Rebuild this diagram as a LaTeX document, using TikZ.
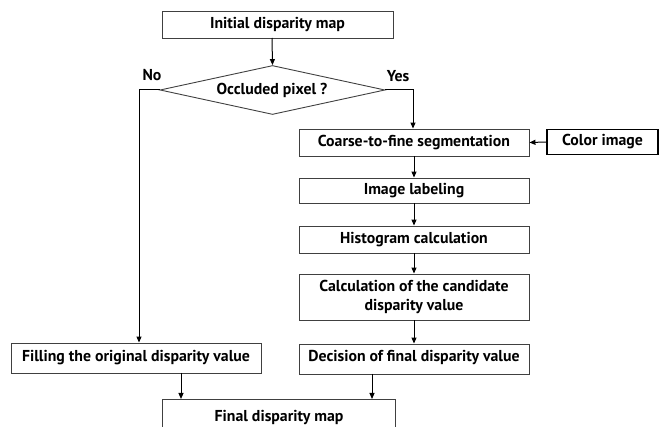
\documentclass[tikz,border=0pt]{standalone}
\usepackage{fontspec}
\setmainfont{PT Sans}
\usetikzlibrary{shapes.geometric,arrows.meta}
\begin{document}
\begin{tikzpicture}[x=1pt,y=-1pt,
  every node/.style={font=\bfseries\fontsize{15.8}{19}\selectfont, text=black},
  box/.style={draw=black!75, line width=0.9pt, fill=white, inner sep=0pt},
  arr/.style={-{Triangle[length=6pt,width=5pt]}, line width=1pt, black},
  ln/.style={line width=1pt, black}]
\useasboundingbox (0,0) rectangle (659,427);
\clip (0,0) rectangle (659,427);
\node[box, minimum width=231pt, minimum height=27pt] (init) at (277.5,24.5) {Initial disparity map};
\node[draw=black!75, line width=0.9pt, diamond, aspect=4.6, minimum width=225pt, minimum height=49pt, inner sep=0pt] (occ) at (272.5,90) {};
\node at (272,90) {Occluded pixel ?};
\node at (152,75) {No};
\node at (398,76) {Yes};
\node[box, minimum width=230pt, minimum height=27pt] (seg) at (414,142.5) {Coarse-to-fine segmentation};
\node[draw=black, line width=1.2pt, inner sep=0pt, minimum width=111pt, minimum height=25pt] (col) at (602.5,142) {Color image};
\node[box, minimum width=230pt, minimum height=25pt] (lab) at (414,190.5) {Image labeling};
\node[box, minimum width=230pt, minimum height=27pt] (his) at (414,239.5) {Histogram calculation};
\node[box, minimum width=230pt, minimum height=46pt, align=center] (cal) at (414,297) {Calculation of the candidate\\disparity value};
\node[box, minimum width=230pt, minimum height=30pt] (dec) at (414,359) {};
\node at (414,358) {Decision of final disparity value};
\node[box, minimum width=250pt, minimum height=30pt] (fil) at (136,358) {Filling the original disparity value};
\node[box, minimum width=233pt, minimum height=40pt, anchor=north west] (fin) at (162,399) {};
\node at (279,418) {Final disparity map};
\coordinate (nl) at (139,90);
\coordinate (yr) at (413,90);
\draw[arr] (272,38) -- (occ.north);
\draw[arr] (occ.west) -- (nl) -- (nl |- fil.north);
\draw[arr] (occ.east) -- (yr) -- (yr |- seg.north);
\draw[arr] (col.west) -- (seg.east);
\draw[arr] (seg) -- (lab);
\draw[arr] (lab) -- (his);
\draw[arr] (his) -- (cal);
\draw[arr] (cal) -- (dec);
\draw[arr] (181,373) -- (181,399);
\draw[arr] (372,374) -- (372,399);
\end{tikzpicture}
\end{document}
